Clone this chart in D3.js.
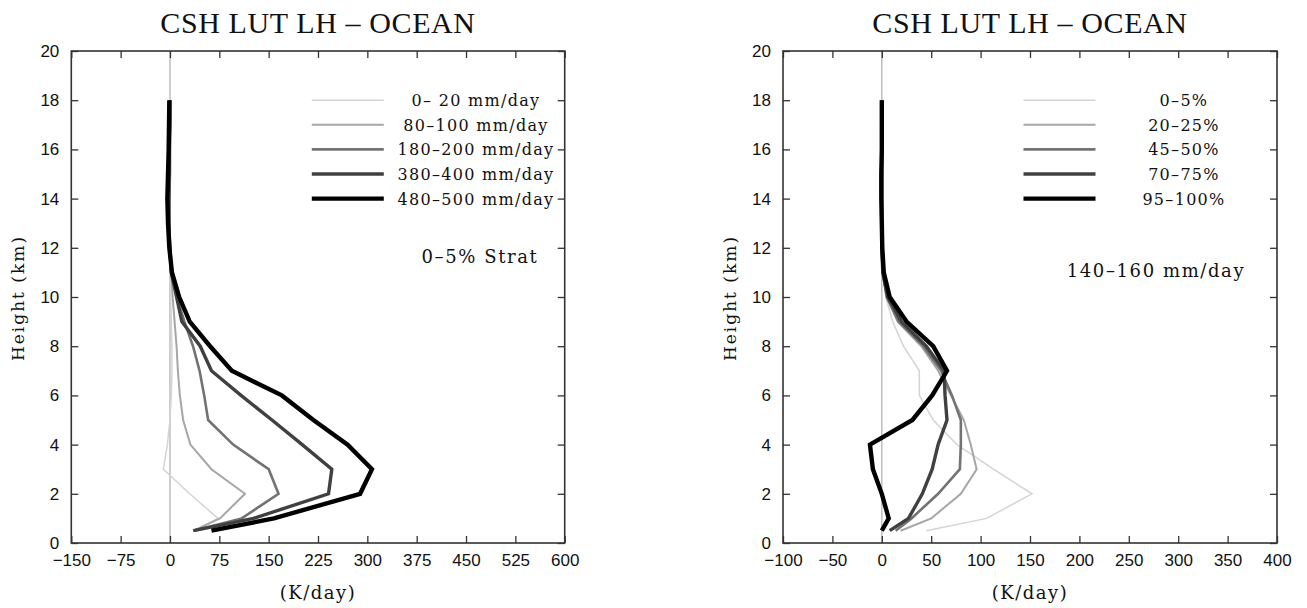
<!DOCTYPE html>
<html>
<head>
<meta charset="utf-8">
<title>CSH LUT LH - OCEAN</title>
<script src="https://cdn.jsdelivr.net/npm/d3@7"></script>
<style>
  body { margin: 0; background: #fff; }
  svg text.tick-lbl { font-family: "Liberation Sans", Arial, sans-serif; font-size: 17px; }
  .serif { font-family: "DejaVu Serif", serif; }
</style>
</head>
<body>
<svg id="chart" width="1307" height="608"></svg>
<script>
// heights (km) shared by every profile
var heights = [0.5, 1, 2, 3, 4, 5, 6, 7, 8, 9, 10, 11, 12, 13, 14, 15, 16, 17, 18];

// left panel: rain-rate classes, 0-5% stratiform
var rateLabels = ["0\u2013 20 mm/day", "80\u2013100 mm/day", "180\u2013200 mm/day", "380\u2013400 mm/day", "480\u2013500 mm/day"];
var rate0_20    = [36, 73, 30, -10, -4, 0, 2, 3, 3, 2, 1, 0, 0, 0, 0, 0, 0, 0, 0];
var rate80_100  = [36, 76, 114, 63, 31, 20, 15, 12, 10, 7, 4, 2, 0, 0, 0, 0, 0, 0, 0];
var rate180_200 = [35, 109, 165, 150, 96, 58, 52, 45, 35, 22, 10, 2, 0, -1, -1, 0, 0, 0, 0];
var rate380_400 = [36, 127, 241, 246, 201, 155, 108, 63, 46, 18, 10, 2, 0, -2, -2, -1, -1, 0, 0];
var rate480_500 = [63, 158, 289, 307, 270, 218, 170, 94, 61, 30, 14, 3, -1, -3, -4, -3, -2, -1.5, -1];
var leftTicks = [-150, -75, 0, 75, 150, 225, 300, 375, 450, 525, 600];

// right panel: stratiform fraction classes, 140-160 mm/day
var stratLabels = ["0\u20135%", "20\u201325%", "45\u201350%", "70\u201375%", "95\u2013100%"];
var strat0_5    = [45, 106, 152, 113, 76, 52, 38, 38, 22, 11, 4, 1, 0, 0, 0, 0, 0, 0, 0];
var strat20_25  = [19, 50, 80, 96, 90, 83, 70, 57, 40, 16, 5, 1, 0, 0, 0, 0, 0, 0, 0];
var strat45_50  = [14, 30, 57, 79, 80, 80, 71, 60, 42, 17, 5, 1, 0, 0, 0, 0, 0, 0, 0];
var strat70_75  = [8, 27, 41, 51, 57, 66, 64, 63, 45, 20, 6, 1, 0, 0, 0, 0, 0, 0, 0];
var strat95_100 = [0, 7, 0, -9, -12, 31, 51, 66, 52, 25, 8, 2, 0.5, 0, -0.5, -0.5, 0, 0, 0];
var rightTicks = [-100, -50, 0, 50, 100, 150, 200, 250, 300, 350, 400];

var heightTicks = [0, 2, 4, 6, 8, 10, 12, 14, 16, 18, 20];

// line styles, lightest to darkest
var colors = ["#d4d4d4", "#a6a6a6", "#737373", "#404040", "#000000"];
var widths = [1.5, 2, 2.6, 3.4, 4.4];

var svg = d3.select("#chart");

function drawPanel(opt) {
  var w = opt.x1 - opt.x0, h = 492;
  var g = svg.append("g").attr("transform", "translate(" + opt.x0 + ",51)");

  var x = d3.scaleLinear().domain([opt.ticks[0], opt.ticks[opt.ticks.length - 1]]).range([0, w]);
  var y = d3.scaleLinear().domain([0, 20]).range([h, 0]);

  // zero line
  g.append("line")
    .attr("x1", x(0)).attr("x2", x(0)).attr("y1", 0).attr("y2", h)
    .attr("stroke", "#bdbdbd").attr("stroke-width", 1.5);

  var line = d3.line()
    .x(function(d) { return x(d.v); })
    .y(function(d) { return y(d.h); });

  opt.series.forEach(function(s, i) {
    var pts = heights.map(function(hh, j) { return {h: hh, v: s[j]}; });
    g.append("path")
      .datum(pts)
      .attr("d", line)
      .attr("fill", "none")
      .attr("stroke", colors[i])
      .attr("stroke-width", widths[i]);
  });

  // axes, ticks pointing inward
  var bottom = g.append("g").attr("transform", "translate(0," + h + ")")
    .call(d3.axisBottom(x).tickValues(opt.ticks).tickSizeInner(-7).tickSizeOuter(0).tickPadding(11));
  bottom.selectAll("text").attr("class", "tick-lbl").attr("fill", "#111");
  g.append("g")
    .call(d3.axisTop(x).tickValues(opt.ticks).tickSizeInner(-7).tickSizeOuter(0).tickFormat(""));
  var left = g.append("g")
    .call(d3.axisLeft(y).tickValues(heightTicks).tickSizeInner(-7).tickSizeOuter(0).tickPadding(12));
  left.selectAll("text").attr("class", "tick-lbl").attr("fill", "#111");
  g.append("g").attr("transform", "translate(" + w + ",0)")
    .call(d3.axisRight(y).tickValues(heightTicks).tickSizeInner(-7).tickSizeOuter(0).tickFormat(""));
  g.selectAll(".domain").remove();
  g.selectAll(".tick line").attr("stroke", "#333").attr("stroke-width", 1.3);

  g.append("rect")
    .attr("width", w).attr("height", h)
    .attr("fill", "none").attr("stroke", "#333").attr("stroke-width", 1.6);

  // legend
  opt.labels.forEach(function(lbl, i) {
    var ly = y(18 - i);
    g.append("line")
      .attr("x1", 240.5).attr("x2", 312.5).attr("y1", ly).attr("y2", ly)
      .attr("stroke", colors[i]).attr("stroke-width", widths[i]);
    g.append("text")
      .attr("class", "serif")
      .attr("x", opt.legendX).attr("y", ly + 6)
      .attr("text-anchor", "middle")
      .attr("font-size", 16).attr("letter-spacing", 1.3)
      .attr("fill", "#111")
      .text(lbl);
  });

  g.append("text")
    .attr("class", "serif")
    .attr("x", opt.noteX).attr("y", opt.noteY)
    .attr("text-anchor", "middle")
    .attr("font-size", 18).attr("letter-spacing", 1.6)
    .attr("fill", "#111")
    .text(opt.note);

  // titles
  g.append("text")
    .attr("x", w / 2).attr("y", -18)
    .attr("text-anchor", "middle")
    .attr("font-family", "Liberation Serif, serif")
    .attr("font-size", 30).attr("letter-spacing", 0.6)
    .attr("fill", "#111")
    .text("CSH LUT LH \u2013 OCEAN");

  g.append("text")
    .attr("class", "serif")
    .attr("x", w / 2).attr("y", h + 56)
    .attr("text-anchor", "middle")
    .attr("font-size", 18).attr("letter-spacing", 1.5)
    .attr("fill", "#111")
    .text("(K/day)");

  g.append("text")
    .attr("class", "serif")
    .attr("transform", "translate(" + (-47) + "," + (247) + ") rotate(-90)")
    .attr("text-anchor", "middle")
    .attr("font-size", 17).attr("letter-spacing", 2)
    .attr("fill", "#111")
    .text("Height (km)");
}

drawPanel({
  x0: 71.3, x1: 564.7, ticks: leftTicks,
  series: [rate0_20, rate80_100, rate180_200, rate380_400, rate480_500],
  labels: rateLabels, legendX: 404.7,
  note: "0\u20135% Strat", noteX: 408.7, noteY: 212
});

drawPanel({
  x0: 783, x1: 1277, ticks: rightTicks,
  series: [strat0_5, strat20_25, strat45_50, strat70_75, strat95_100],
  labels: stratLabels, legendX: 401,
  note: "140\u2013160 mm/day", noteX: 373, noteY: 226
});
</script>
</body>
</html>
